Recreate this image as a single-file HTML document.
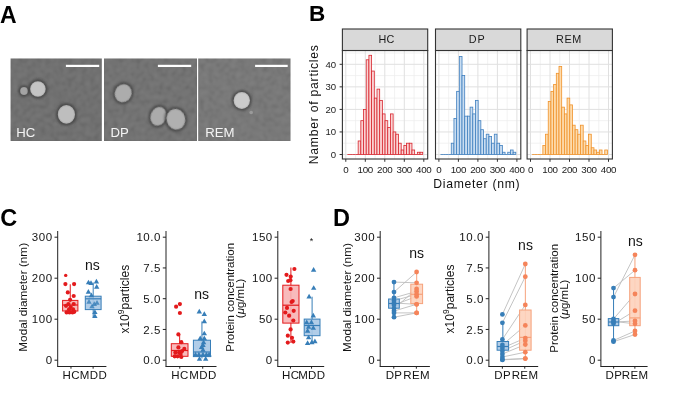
<!DOCTYPE html>
<html><head><meta charset="utf-8"><style>
html,body{margin:0;padding:0;background:#fff;}
svg{display:block;will-change:transform;filter:blur(0.35px);font-family:"Liberation Sans", sans-serif;}
</style></head><body>
<svg width="685" height="419" viewBox="0 0 685 419">
<defs>
<filter id="noise0" x="0" y="0" width="100%" height="100%"><feTurbulence type="fractalNoise" baseFrequency="0.22" numOctaves="3" seed="4"/><feColorMatrix type="matrix" values="1.6 0 0 0 -0.3  1.6 0 0 0 -0.3  1.6 0 0 0 -0.3  0 0 0 0 0.11"/><feGaussianBlur stdDeviation="0.8"/></filter>
<filter id="noise1" x="0" y="0" width="100%" height="100%"><feTurbulence type="fractalNoise" baseFrequency="0.22" numOctaves="3" seed="9"/><feColorMatrix type="matrix" values="1.6 0 0 0 -0.3  1.6 0 0 0 -0.3  1.6 0 0 0 -0.3  0 0 0 0 0.11"/><feGaussianBlur stdDeviation="0.8"/></filter>
<filter id="noise2" x="0" y="0" width="100%" height="100%"><feTurbulence type="fractalNoise" baseFrequency="0.22" numOctaves="3" seed="17"/><feColorMatrix type="matrix" values="1.6 0 0 0 -0.3  1.6 0 0 0 -0.3  1.6 0 0 0 -0.3  0 0 0 0 0.11"/><feGaussianBlur stdDeviation="0.8"/></filter>
<filter id="b05" x="-50%" y="-50%" width="200%" height="200%"><feGaussianBlur stdDeviation="0.6"/></filter>
<filter id="b1" x="-50%" y="-50%" width="200%" height="200%"><feGaussianBlur stdDeviation="1.2"/></filter>
</defs>
<rect width="685" height="419" fill="#fff"/>
<text x="0" y="23.3" font-family='"Liberation Sans", sans-serif' font-weight="bold" font-size="23" fill="#000">A</text>
<rect x="10.6" y="58.5" width="91.2" height="82.5" fill="#676767"/>
<rect x="10.6" y="58.5" width="91.2" height="82.5" filter="url(#noise0)"/>
<rect x="104.0" y="58.5" width="93.0" height="82.5" fill="#6a6a6a"/>
<rect x="104.0" y="58.5" width="93.0" height="82.5" filter="url(#noise1)"/>
<rect x="198.2" y="58.5" width="92.3" height="82.5" fill="#707070"/>
<rect x="198.2" y="58.5" width="92.3" height="82.5" filter="url(#noise2)"/>
<radialGradient id="vg0"><stop offset="0" stop-color="#a4a4a4"/><stop offset="0.8" stop-color="#a4a4a4"/><stop offset="1" stop-color="#959595"/></radialGradient>
<g transform="translate(24.0,91.0) rotate(0)"><ellipse rx="5.9" ry="5.9" fill="#3e3e3e" opacity="0.7" filter="url(#b1)"/><ellipse rx="3.9" ry="3.9" fill="url(#vg0)" filter="url(#b05)"/></g>
<radialGradient id="vg1"><stop offset="0" stop-color="#c4c4c4"/><stop offset="0.8" stop-color="#c4c4c4"/><stop offset="1" stop-color="#b0b0b0"/></radialGradient>
<g transform="translate(37.9,89.0) rotate(0)"><ellipse rx="9.8" ry="9.8" fill="#3e3e3e" opacity="0.7" filter="url(#b1)"/><ellipse rx="7.8" ry="7.8" fill="url(#vg1)" filter="url(#b05)"/></g>
<radialGradient id="vg2"><stop offset="0" stop-color="#bebebe"/><stop offset="0.8" stop-color="#bebebe"/><stop offset="1" stop-color="#aaaaaa"/></radialGradient>
<g transform="translate(66.4,114.4) rotate(0)"><ellipse rx="10.6" ry="11.3" fill="#3e3e3e" opacity="0.7" filter="url(#b1)"/><ellipse rx="8.6" ry="9.3" fill="url(#vg2)" filter="url(#b05)"/></g>
<radialGradient id="vg3"><stop offset="0" stop-color="#acacac"/><stop offset="0.8" stop-color="#acacac"/><stop offset="1" stop-color="#9c9c9c"/></radialGradient>
<g transform="translate(123.2,93.2) rotate(25)"><ellipse rx="10.4" ry="11.3" fill="#3e3e3e" opacity="0.7" filter="url(#b1)"/><ellipse rx="8.4" ry="9.3" fill="url(#vg3)" filter="url(#b05)"/></g>
<radialGradient id="vg4"><stop offset="0" stop-color="#ababab"/><stop offset="0.8" stop-color="#ababab"/><stop offset="1" stop-color="#9a9a9a"/></radialGradient>
<g transform="translate(158.4,116.3) rotate(20)"><ellipse rx="9.9" ry="11.7" fill="#3e3e3e" opacity="0.7" filter="url(#b1)"/><ellipse rx="7.9" ry="9.7" fill="url(#vg4)" filter="url(#b05)"/></g>
<radialGradient id="vg5"><stop offset="0" stop-color="#b0b0b0"/><stop offset="0.8" stop-color="#b0b0b0"/><stop offset="1" stop-color="#9e9e9e"/></radialGradient>
<g transform="translate(175.9,119.2) rotate(-15)"><ellipse rx="11.4" ry="12.6" fill="#3e3e3e" opacity="0.7" filter="url(#b1)"/><ellipse rx="9.4" ry="10.6" fill="url(#vg5)" filter="url(#b05)"/></g>
<radialGradient id="vg6"><stop offset="0" stop-color="#cbcbcb"/><stop offset="0.8" stop-color="#cbcbcb"/><stop offset="1" stop-color="#b4b4b4"/></radialGradient>
<g transform="translate(241.8,100.5) rotate(0)"><ellipse rx="10.2" ry="10.4" fill="#3e3e3e" opacity="0.7" filter="url(#b1)"/><ellipse rx="8.2" ry="8.4" fill="url(#vg6)" filter="url(#b05)"/></g>
<circle cx="251.2" cy="112.5" r="1.8" fill="#9a9a9a" filter="url(#b05)"/>
<rect x="65.9" y="64.8" width="33.3" height="2.2" fill="#fff"/>
<rect x="157.9" y="64.8" width="33.29999999999998" height="2.2" fill="#fff"/>
<rect x="255.1" y="64.8" width="32.599999999999994" height="2.2" fill="#fff"/>
<text x="16.2" y="136.6" font-family='"Liberation Sans", sans-serif' font-size="13.2" fill="#f4f4f4">HC</text>
<text x="110.4" y="136.6" font-family='"Liberation Sans", sans-serif' font-size="13.2" fill="#f4f4f4">DP</text>
<text x="205.2" y="136.6" font-family='"Liberation Sans", sans-serif' font-size="13.2" fill="#f4f4f4">REM</text>
<text x="309" y="21.2" font-family='"Liberation Sans", sans-serif' font-weight="bold" font-size="22.5" fill="#000">B</text>
<line x1="355.55" y1="50.5" x2="355.55" y2="159.0" stroke="#ededed" stroke-width="0.7"/>
<line x1="375.05" y1="50.5" x2="375.05" y2="159.0" stroke="#ededed" stroke-width="0.7"/>
<line x1="394.55" y1="50.5" x2="394.55" y2="159.0" stroke="#ededed" stroke-width="0.7"/>
<line x1="414.05" y1="50.5" x2="414.05" y2="159.0" stroke="#ededed" stroke-width="0.7"/>
<line x1="342.4" y1="143.22" x2="427.7" y2="143.22" stroke="#ededed" stroke-width="0.7"/>
<line x1="342.4" y1="120.68" x2="427.7" y2="120.68" stroke="#ededed" stroke-width="0.7"/>
<line x1="342.4" y1="98.12" x2="427.7" y2="98.12" stroke="#ededed" stroke-width="0.7"/>
<line x1="342.4" y1="75.58" x2="427.7" y2="75.58" stroke="#ededed" stroke-width="0.7"/>
<line x1="342.4" y1="53.03" x2="427.7" y2="53.03" stroke="#ededed" stroke-width="0.7"/>
<line x1="345.80" y1="50.5" x2="345.80" y2="159.0" stroke="#e0e0e0" stroke-width="1"/>
<line x1="365.30" y1="50.5" x2="365.30" y2="159.0" stroke="#e0e0e0" stroke-width="1"/>
<line x1="384.80" y1="50.5" x2="384.80" y2="159.0" stroke="#e0e0e0" stroke-width="1"/>
<line x1="404.30" y1="50.5" x2="404.30" y2="159.0" stroke="#e0e0e0" stroke-width="1"/>
<line x1="423.80" y1="50.5" x2="423.80" y2="159.0" stroke="#e0e0e0" stroke-width="1"/>
<line x1="342.4" y1="154.50" x2="427.7" y2="154.50" stroke="#e0e0e0" stroke-width="1"/>
<line x1="342.4" y1="131.95" x2="427.7" y2="131.95" stroke="#e0e0e0" stroke-width="1"/>
<line x1="342.4" y1="109.40" x2="427.7" y2="109.40" stroke="#e0e0e0" stroke-width="1"/>
<line x1="342.4" y1="86.85" x2="427.7" y2="86.85" stroke="#e0e0e0" stroke-width="1"/>
<line x1="342.4" y1="64.30" x2="427.7" y2="64.30" stroke="#e0e0e0" stroke-width="1"/>
<line x1="347.40" y1="154.5" x2="350.09" y2="154.5" stroke="#d7262e" stroke-width="0.8"/>
<line x1="350.09" y1="154.5" x2="352.78" y2="154.5" stroke="#d7262e" stroke-width="0.8"/>
<line x1="352.78" y1="154.5" x2="355.47" y2="154.5" stroke="#d7262e" stroke-width="0.8"/>
<line x1="355.47" y1="154.5" x2="358.16" y2="154.5" stroke="#d7262e" stroke-width="0.8"/>
<rect x="358.16" y="140.97" width="2.69" height="13.53" fill="#fbd3d4" stroke="#d7262e" stroke-width="0.8"/>
<rect x="360.85" y="120.68" width="2.69" height="33.82" fill="#fbd3d4" stroke="#d7262e" stroke-width="0.8"/>
<rect x="363.54" y="109.40" width="2.69" height="45.10" fill="#fbd3d4" stroke="#d7262e" stroke-width="0.8"/>
<rect x="366.23" y="59.79" width="2.69" height="94.71" fill="#fbd3d4" stroke="#d7262e" stroke-width="0.8"/>
<rect x="368.92" y="55.28" width="2.69" height="99.22" fill="#fbd3d4" stroke="#d7262e" stroke-width="0.8"/>
<rect x="371.61" y="71.06" width="2.69" height="83.44" fill="#fbd3d4" stroke="#d7262e" stroke-width="0.8"/>
<rect x="374.30" y="98.12" width="2.69" height="56.38" fill="#fbd3d4" stroke="#d7262e" stroke-width="0.8"/>
<rect x="376.99" y="89.11" width="2.69" height="65.39" fill="#fbd3d4" stroke="#d7262e" stroke-width="0.8"/>
<rect x="379.68" y="100.38" width="2.69" height="54.12" fill="#fbd3d4" stroke="#d7262e" stroke-width="0.8"/>
<rect x="382.37" y="113.91" width="2.69" height="40.59" fill="#fbd3d4" stroke="#d7262e" stroke-width="0.8"/>
<rect x="385.06" y="120.68" width="2.69" height="33.82" fill="#fbd3d4" stroke="#d7262e" stroke-width="0.8"/>
<rect x="387.75" y="127.44" width="2.69" height="27.06" fill="#fbd3d4" stroke="#d7262e" stroke-width="0.8"/>
<rect x="390.44" y="113.91" width="2.69" height="40.59" fill="#fbd3d4" stroke="#d7262e" stroke-width="0.8"/>
<rect x="393.13" y="131.95" width="2.69" height="22.55" fill="#fbd3d4" stroke="#d7262e" stroke-width="0.8"/>
<rect x="395.82" y="134.21" width="2.69" height="20.29" fill="#fbd3d4" stroke="#d7262e" stroke-width="0.8"/>
<rect x="398.51" y="143.22" width="2.69" height="11.27" fill="#fbd3d4" stroke="#d7262e" stroke-width="0.8"/>
<rect x="401.20" y="149.99" width="2.69" height="4.51" fill="#fbd3d4" stroke="#d7262e" stroke-width="0.8"/>
<rect x="403.89" y="145.48" width="2.69" height="9.02" fill="#fbd3d4" stroke="#d7262e" stroke-width="0.8"/>
<rect x="406.58" y="143.22" width="2.69" height="11.27" fill="#fbd3d4" stroke="#d7262e" stroke-width="0.8"/>
<rect x="409.27" y="143.22" width="2.69" height="11.27" fill="#fbd3d4" stroke="#d7262e" stroke-width="0.8"/>
<rect x="411.96" y="149.99" width="2.69" height="4.51" fill="#fbd3d4" stroke="#d7262e" stroke-width="0.8"/>
<line x1="414.65" y1="154.5" x2="417.34" y2="154.5" stroke="#d7262e" stroke-width="0.8"/>
<rect x="417.34" y="152.25" width="2.69" height="2.25" fill="#fbd3d4" stroke="#d7262e" stroke-width="0.8"/>
<rect x="420.03" y="152.25" width="2.69" height="2.25" fill="#fbd3d4" stroke="#d7262e" stroke-width="0.8"/>
<rect x="342.4" y="50.5" width="85.3" height="108.5" fill="none" stroke="#333" stroke-width="1.1"/>
<rect x="342.4" y="29.0" width="85.3" height="21.5" fill="#d9d9d9" stroke="#333" stroke-width="1.1"/>
<text x="386.54999999999995" y="42.5" text-anchor="middle" font-family='"Liberation Sans", sans-serif' font-size="10.8" letter-spacing="0.2" fill="#1a1a1a">HC</text>
<line x1="345.80" y1="159.0" x2="345.80" y2="161.8" stroke="#333" stroke-width="1"/>
<text x="345.80" y="172.8" text-anchor="middle" font-family='"Liberation Sans", sans-serif' font-size="9.8" letter-spacing="-0.3" fill="#222">0</text>
<line x1="365.30" y1="159.0" x2="365.30" y2="161.8" stroke="#333" stroke-width="1"/>
<text x="365.30" y="172.8" text-anchor="middle" font-family='"Liberation Sans", sans-serif' font-size="9.8" letter-spacing="-0.3" fill="#222">100</text>
<line x1="384.80" y1="159.0" x2="384.80" y2="161.8" stroke="#333" stroke-width="1"/>
<text x="384.80" y="172.8" text-anchor="middle" font-family='"Liberation Sans", sans-serif' font-size="9.8" letter-spacing="-0.3" fill="#222">200</text>
<line x1="404.30" y1="159.0" x2="404.30" y2="161.8" stroke="#333" stroke-width="1"/>
<text x="404.30" y="172.8" text-anchor="middle" font-family='"Liberation Sans", sans-serif' font-size="9.8" letter-spacing="-0.3" fill="#222">300</text>
<line x1="423.80" y1="159.0" x2="423.80" y2="161.8" stroke="#333" stroke-width="1"/>
<text x="423.80" y="172.8" text-anchor="middle" font-family='"Liberation Sans", sans-serif' font-size="9.8" letter-spacing="-0.3" fill="#222">400</text>
<line x1="448.65" y1="50.5" x2="448.65" y2="159.0" stroke="#ededed" stroke-width="0.7"/>
<line x1="468.15" y1="50.5" x2="468.15" y2="159.0" stroke="#ededed" stroke-width="0.7"/>
<line x1="487.65" y1="50.5" x2="487.65" y2="159.0" stroke="#ededed" stroke-width="0.7"/>
<line x1="507.15" y1="50.5" x2="507.15" y2="159.0" stroke="#ededed" stroke-width="0.7"/>
<line x1="435.5" y1="143.22" x2="520.8" y2="143.22" stroke="#ededed" stroke-width="0.7"/>
<line x1="435.5" y1="120.68" x2="520.8" y2="120.68" stroke="#ededed" stroke-width="0.7"/>
<line x1="435.5" y1="98.12" x2="520.8" y2="98.12" stroke="#ededed" stroke-width="0.7"/>
<line x1="435.5" y1="75.58" x2="520.8" y2="75.58" stroke="#ededed" stroke-width="0.7"/>
<line x1="435.5" y1="53.03" x2="520.8" y2="53.03" stroke="#ededed" stroke-width="0.7"/>
<line x1="438.90" y1="50.5" x2="438.90" y2="159.0" stroke="#e0e0e0" stroke-width="1"/>
<line x1="458.40" y1="50.5" x2="458.40" y2="159.0" stroke="#e0e0e0" stroke-width="1"/>
<line x1="477.90" y1="50.5" x2="477.90" y2="159.0" stroke="#e0e0e0" stroke-width="1"/>
<line x1="497.40" y1="50.5" x2="497.40" y2="159.0" stroke="#e0e0e0" stroke-width="1"/>
<line x1="516.90" y1="50.5" x2="516.90" y2="159.0" stroke="#e0e0e0" stroke-width="1"/>
<line x1="435.5" y1="154.50" x2="520.8" y2="154.50" stroke="#e0e0e0" stroke-width="1"/>
<line x1="435.5" y1="131.95" x2="520.8" y2="131.95" stroke="#e0e0e0" stroke-width="1"/>
<line x1="435.5" y1="109.40" x2="520.8" y2="109.40" stroke="#e0e0e0" stroke-width="1"/>
<line x1="435.5" y1="86.85" x2="520.8" y2="86.85" stroke="#e0e0e0" stroke-width="1"/>
<line x1="435.5" y1="64.30" x2="520.8" y2="64.30" stroke="#e0e0e0" stroke-width="1"/>
<line x1="440.50" y1="154.5" x2="443.19" y2="154.5" stroke="#3f7fbf" stroke-width="0.8"/>
<line x1="443.19" y1="154.5" x2="445.88" y2="154.5" stroke="#3f7fbf" stroke-width="0.8"/>
<line x1="445.88" y1="154.5" x2="448.57" y2="154.5" stroke="#3f7fbf" stroke-width="0.8"/>
<line x1="448.57" y1="154.5" x2="451.26" y2="154.5" stroke="#3f7fbf" stroke-width="0.8"/>
<rect x="451.26" y="143.22" width="2.69" height="11.27" fill="#c9ddf1" stroke="#3f7fbf" stroke-width="0.8"/>
<rect x="453.95" y="118.42" width="2.69" height="36.08" fill="#c9ddf1" stroke="#3f7fbf" stroke-width="0.8"/>
<rect x="456.64" y="91.36" width="2.69" height="63.14" fill="#c9ddf1" stroke="#3f7fbf" stroke-width="0.8"/>
<rect x="459.33" y="56.41" width="2.69" height="98.09" fill="#c9ddf1" stroke="#3f7fbf" stroke-width="0.8"/>
<rect x="462.02" y="75.58" width="2.69" height="78.92" fill="#c9ddf1" stroke="#3f7fbf" stroke-width="0.8"/>
<rect x="464.71" y="116.16" width="2.69" height="38.34" fill="#c9ddf1" stroke="#3f7fbf" stroke-width="0.8"/>
<rect x="467.40" y="116.16" width="2.69" height="38.34" fill="#c9ddf1" stroke="#3f7fbf" stroke-width="0.8"/>
<rect x="470.09" y="107.15" width="2.69" height="47.35" fill="#c9ddf1" stroke="#3f7fbf" stroke-width="0.8"/>
<rect x="472.78" y="113.91" width="2.69" height="40.59" fill="#c9ddf1" stroke="#3f7fbf" stroke-width="0.8"/>
<rect x="475.47" y="100.38" width="2.69" height="54.12" fill="#c9ddf1" stroke="#3f7fbf" stroke-width="0.8"/>
<rect x="478.16" y="120.68" width="2.69" height="33.82" fill="#c9ddf1" stroke="#3f7fbf" stroke-width="0.8"/>
<rect x="480.85" y="129.69" width="2.69" height="24.80" fill="#c9ddf1" stroke="#3f7fbf" stroke-width="0.8"/>
<rect x="483.54" y="138.72" width="2.69" height="15.79" fill="#c9ddf1" stroke="#3f7fbf" stroke-width="0.8"/>
<rect x="486.23" y="134.21" width="2.69" height="20.29" fill="#c9ddf1" stroke="#3f7fbf" stroke-width="0.8"/>
<rect x="488.92" y="136.46" width="2.69" height="18.04" fill="#c9ddf1" stroke="#3f7fbf" stroke-width="0.8"/>
<rect x="491.61" y="143.22" width="2.69" height="11.27" fill="#c9ddf1" stroke="#3f7fbf" stroke-width="0.8"/>
<rect x="494.30" y="134.21" width="2.69" height="20.29" fill="#c9ddf1" stroke="#3f7fbf" stroke-width="0.8"/>
<rect x="496.99" y="143.22" width="2.69" height="11.27" fill="#c9ddf1" stroke="#3f7fbf" stroke-width="0.8"/>
<rect x="499.68" y="145.48" width="2.69" height="9.02" fill="#c9ddf1" stroke="#3f7fbf" stroke-width="0.8"/>
<rect x="502.37" y="152.25" width="2.69" height="2.25" fill="#c9ddf1" stroke="#3f7fbf" stroke-width="0.8"/>
<line x1="505.06" y1="154.5" x2="507.75" y2="154.5" stroke="#3f7fbf" stroke-width="0.8"/>
<rect x="507.75" y="152.25" width="2.69" height="2.25" fill="#c9ddf1" stroke="#3f7fbf" stroke-width="0.8"/>
<rect x="510.44" y="149.99" width="2.69" height="4.51" fill="#c9ddf1" stroke="#3f7fbf" stroke-width="0.8"/>
<rect x="513.13" y="152.25" width="2.69" height="2.25" fill="#c9ddf1" stroke="#3f7fbf" stroke-width="0.8"/>
<rect x="435.5" y="50.5" width="85.3" height="108.5" fill="none" stroke="#333" stroke-width="1.1"/>
<rect x="435.5" y="29.0" width="85.3" height="21.5" fill="#d9d9d9" stroke="#333" stroke-width="1.1"/>
<text x="477.15" y="42.5" text-anchor="middle" font-family='"Liberation Sans", sans-serif' font-size="10.8" letter-spacing="1.0" fill="#1a1a1a">DP</text>
<line x1="438.90" y1="159.0" x2="438.90" y2="161.8" stroke="#333" stroke-width="1"/>
<text x="438.90" y="172.8" text-anchor="middle" font-family='"Liberation Sans", sans-serif' font-size="9.8" letter-spacing="-0.3" fill="#222">0</text>
<line x1="458.40" y1="159.0" x2="458.40" y2="161.8" stroke="#333" stroke-width="1"/>
<text x="458.40" y="172.8" text-anchor="middle" font-family='"Liberation Sans", sans-serif' font-size="9.8" letter-spacing="-0.3" fill="#222">100</text>
<line x1="477.90" y1="159.0" x2="477.90" y2="161.8" stroke="#333" stroke-width="1"/>
<text x="477.90" y="172.8" text-anchor="middle" font-family='"Liberation Sans", sans-serif' font-size="9.8" letter-spacing="-0.3" fill="#222">200</text>
<line x1="497.40" y1="159.0" x2="497.40" y2="161.8" stroke="#333" stroke-width="1"/>
<text x="497.40" y="172.8" text-anchor="middle" font-family='"Liberation Sans", sans-serif' font-size="9.8" letter-spacing="-0.3" fill="#222">300</text>
<line x1="516.90" y1="159.0" x2="516.90" y2="161.8" stroke="#333" stroke-width="1"/>
<text x="516.90" y="172.8" text-anchor="middle" font-family='"Liberation Sans", sans-serif' font-size="9.8" letter-spacing="-0.3" fill="#222">400</text>
<line x1="540.25" y1="50.5" x2="540.25" y2="159.0" stroke="#ededed" stroke-width="0.7"/>
<line x1="559.75" y1="50.5" x2="559.75" y2="159.0" stroke="#ededed" stroke-width="0.7"/>
<line x1="579.25" y1="50.5" x2="579.25" y2="159.0" stroke="#ededed" stroke-width="0.7"/>
<line x1="598.75" y1="50.5" x2="598.75" y2="159.0" stroke="#ededed" stroke-width="0.7"/>
<line x1="527.1" y1="143.22" x2="612.4" y2="143.22" stroke="#ededed" stroke-width="0.7"/>
<line x1="527.1" y1="120.68" x2="612.4" y2="120.68" stroke="#ededed" stroke-width="0.7"/>
<line x1="527.1" y1="98.12" x2="612.4" y2="98.12" stroke="#ededed" stroke-width="0.7"/>
<line x1="527.1" y1="75.58" x2="612.4" y2="75.58" stroke="#ededed" stroke-width="0.7"/>
<line x1="527.1" y1="53.03" x2="612.4" y2="53.03" stroke="#ededed" stroke-width="0.7"/>
<line x1="530.50" y1="50.5" x2="530.50" y2="159.0" stroke="#e0e0e0" stroke-width="1"/>
<line x1="550.00" y1="50.5" x2="550.00" y2="159.0" stroke="#e0e0e0" stroke-width="1"/>
<line x1="569.50" y1="50.5" x2="569.50" y2="159.0" stroke="#e0e0e0" stroke-width="1"/>
<line x1="589.00" y1="50.5" x2="589.00" y2="159.0" stroke="#e0e0e0" stroke-width="1"/>
<line x1="608.50" y1="50.5" x2="608.50" y2="159.0" stroke="#e0e0e0" stroke-width="1"/>
<line x1="527.1" y1="154.50" x2="612.4" y2="154.50" stroke="#e0e0e0" stroke-width="1"/>
<line x1="527.1" y1="131.95" x2="612.4" y2="131.95" stroke="#e0e0e0" stroke-width="1"/>
<line x1="527.1" y1="109.40" x2="612.4" y2="109.40" stroke="#e0e0e0" stroke-width="1"/>
<line x1="527.1" y1="86.85" x2="612.4" y2="86.85" stroke="#e0e0e0" stroke-width="1"/>
<line x1="527.1" y1="64.30" x2="612.4" y2="64.30" stroke="#e0e0e0" stroke-width="1"/>
<line x1="532.10" y1="154.5" x2="534.79" y2="154.5" stroke="#f0922a" stroke-width="0.8"/>
<line x1="534.79" y1="154.5" x2="537.48" y2="154.5" stroke="#f0922a" stroke-width="0.8"/>
<line x1="537.48" y1="154.5" x2="540.17" y2="154.5" stroke="#f0922a" stroke-width="0.8"/>
<line x1="540.17" y1="154.5" x2="542.86" y2="154.5" stroke="#f0922a" stroke-width="0.8"/>
<rect x="542.86" y="145.48" width="2.69" height="9.02" fill="#fddbac" stroke="#f0922a" stroke-width="0.8"/>
<rect x="545.55" y="134.21" width="2.69" height="20.29" fill="#fddbac" stroke="#f0922a" stroke-width="0.8"/>
<rect x="548.24" y="101.51" width="2.69" height="52.99" fill="#fddbac" stroke="#f0922a" stroke-width="0.8"/>
<rect x="550.93" y="91.36" width="2.69" height="63.14" fill="#fddbac" stroke="#f0922a" stroke-width="0.8"/>
<rect x="553.62" y="84.59" width="2.69" height="69.91" fill="#fddbac" stroke="#f0922a" stroke-width="0.8"/>
<rect x="556.31" y="73.32" width="2.69" height="81.18" fill="#fddbac" stroke="#f0922a" stroke-width="0.8"/>
<rect x="559.00" y="66.56" width="2.69" height="87.94" fill="#fddbac" stroke="#f0922a" stroke-width="0.8"/>
<rect x="561.69" y="107.15" width="2.69" height="47.35" fill="#fddbac" stroke="#f0922a" stroke-width="0.8"/>
<rect x="564.38" y="113.91" width="2.69" height="40.59" fill="#fddbac" stroke="#f0922a" stroke-width="0.8"/>
<rect x="567.07" y="98.12" width="2.69" height="56.38" fill="#fddbac" stroke="#f0922a" stroke-width="0.8"/>
<rect x="569.76" y="104.89" width="2.69" height="49.61" fill="#fddbac" stroke="#f0922a" stroke-width="0.8"/>
<rect x="572.45" y="125.19" width="2.69" height="29.31" fill="#fddbac" stroke="#f0922a" stroke-width="0.8"/>
<rect x="575.14" y="129.69" width="2.69" height="24.80" fill="#fddbac" stroke="#f0922a" stroke-width="0.8"/>
<rect x="577.83" y="134.21" width="2.69" height="20.29" fill="#fddbac" stroke="#f0922a" stroke-width="0.8"/>
<rect x="580.52" y="125.19" width="2.69" height="29.31" fill="#fddbac" stroke="#f0922a" stroke-width="0.8"/>
<rect x="583.21" y="140.97" width="2.69" height="13.53" fill="#fddbac" stroke="#f0922a" stroke-width="0.8"/>
<rect x="585.90" y="145.48" width="2.69" height="9.02" fill="#fddbac" stroke="#f0922a" stroke-width="0.8"/>
<rect x="588.59" y="134.21" width="2.69" height="20.29" fill="#fddbac" stroke="#f0922a" stroke-width="0.8"/>
<rect x="591.28" y="147.74" width="2.69" height="6.76" fill="#fddbac" stroke="#f0922a" stroke-width="0.8"/>
<rect x="593.97" y="149.99" width="2.69" height="4.51" fill="#fddbac" stroke="#f0922a" stroke-width="0.8"/>
<rect x="596.66" y="152.25" width="2.69" height="2.25" fill="#fddbac" stroke="#f0922a" stroke-width="0.8"/>
<rect x="599.35" y="149.99" width="2.69" height="4.51" fill="#fddbac" stroke="#f0922a" stroke-width="0.8"/>
<line x1="602.04" y1="154.5" x2="604.73" y2="154.5" stroke="#f0922a" stroke-width="0.8"/>
<rect x="604.73" y="149.99" width="2.69" height="4.51" fill="#fddbac" stroke="#f0922a" stroke-width="0.8"/>
<rect x="527.1" y="50.5" width="85.3" height="108.5" fill="none" stroke="#333" stroke-width="1.1"/>
<rect x="527.1" y="29.0" width="85.3" height="21.5" fill="#d9d9d9" stroke="#333" stroke-width="1.1"/>
<text x="568.95" y="42.5" text-anchor="middle" font-family='"Liberation Sans", sans-serif' font-size="10.8" letter-spacing="0.6" fill="#1a1a1a">REM</text>
<line x1="530.50" y1="159.0" x2="530.50" y2="161.8" stroke="#333" stroke-width="1"/>
<text x="530.50" y="172.8" text-anchor="middle" font-family='"Liberation Sans", sans-serif' font-size="9.8" letter-spacing="-0.3" fill="#222">0</text>
<line x1="550.00" y1="159.0" x2="550.00" y2="161.8" stroke="#333" stroke-width="1"/>
<text x="550.00" y="172.8" text-anchor="middle" font-family='"Liberation Sans", sans-serif' font-size="9.8" letter-spacing="-0.3" fill="#222">100</text>
<line x1="569.50" y1="159.0" x2="569.50" y2="161.8" stroke="#333" stroke-width="1"/>
<text x="569.50" y="172.8" text-anchor="middle" font-family='"Liberation Sans", sans-serif' font-size="9.8" letter-spacing="-0.3" fill="#222">200</text>
<line x1="589.00" y1="159.0" x2="589.00" y2="161.8" stroke="#333" stroke-width="1"/>
<text x="589.00" y="172.8" text-anchor="middle" font-family='"Liberation Sans", sans-serif' font-size="9.8" letter-spacing="-0.3" fill="#222">300</text>
<line x1="608.50" y1="159.0" x2="608.50" y2="161.8" stroke="#333" stroke-width="1"/>
<text x="608.50" y="172.8" text-anchor="middle" font-family='"Liberation Sans", sans-serif' font-size="9.8" letter-spacing="-0.3" fill="#222">400</text>
<line x1="339.59999999999997" y1="154.50" x2="342.4" y2="154.50" stroke="#333" stroke-width="1"/>
<text x="336.09999999999997" y="157.90" text-anchor="end" font-family='"Liberation Sans", sans-serif' font-size="9.6" fill="#222">0</text>
<line x1="339.59999999999997" y1="131.95" x2="342.4" y2="131.95" stroke="#333" stroke-width="1"/>
<text x="336.09999999999997" y="135.35" text-anchor="end" font-family='"Liberation Sans", sans-serif' font-size="9.6" fill="#222">10</text>
<line x1="339.59999999999997" y1="109.40" x2="342.4" y2="109.40" stroke="#333" stroke-width="1"/>
<text x="336.09999999999997" y="112.80" text-anchor="end" font-family='"Liberation Sans", sans-serif' font-size="9.6" fill="#222">20</text>
<line x1="339.59999999999997" y1="86.85" x2="342.4" y2="86.85" stroke="#333" stroke-width="1"/>
<text x="336.09999999999997" y="90.25" text-anchor="end" font-family='"Liberation Sans", sans-serif' font-size="9.6" fill="#222">30</text>
<line x1="339.59999999999997" y1="64.30" x2="342.4" y2="64.30" stroke="#333" stroke-width="1"/>
<text x="336.09999999999997" y="67.70" text-anchor="end" font-family='"Liberation Sans", sans-serif' font-size="9.6" fill="#222">40</text>
<text x="476.8" y="187.6" text-anchor="middle" font-family='"Liberation Sans", sans-serif' font-size="12.2" letter-spacing="0.7" fill="#111">Diameter (nm)</text>
<text transform="translate(318.2,104.3) rotate(-90)" x="0" y="0" text-anchor="middle" font-family='"Liberation Sans", sans-serif' font-size="12.2" letter-spacing="0.75" fill="#111">Namber of particles</text>
<text x="0.3" y="225.6" font-family='"Liberation Sans", sans-serif' font-weight="bold" font-size="23.5" fill="#000">C</text>
<text x="333" y="226.3" font-family='"Liberation Sans", sans-serif' font-weight="bold" font-size="23.5" fill="#000">D</text>
<line x1="57.7" y1="231.0" x2="57.7" y2="366.5" stroke="#222" stroke-width="1"/>
<line x1="57.2" y1="366.5" x2="106.4" y2="366.5" stroke="#222" stroke-width="1"/>
<line x1="54.5" y1="360.20" x2="57.7" y2="360.20" stroke="#222" stroke-width="1"/>
<text x="52.70" y="364.30" text-anchor="end" font-family='"Liberation Sans", sans-serif' font-size="11.5" letter-spacing="0.55" fill="#141414">0</text>
<line x1="54.5" y1="319.20" x2="57.7" y2="319.20" stroke="#222" stroke-width="1"/>
<text x="52.70" y="323.30" text-anchor="end" font-family='"Liberation Sans", sans-serif' font-size="11.5" letter-spacing="0.55" fill="#141414">100</text>
<line x1="54.5" y1="278.20" x2="57.7" y2="278.20" stroke="#222" stroke-width="1"/>
<text x="52.70" y="282.30" text-anchor="end" font-family='"Liberation Sans", sans-serif' font-size="11.5" letter-spacing="0.55" fill="#141414">200</text>
<line x1="54.5" y1="237.20" x2="57.7" y2="237.20" stroke="#222" stroke-width="1"/>
<text x="52.70" y="241.30" text-anchor="end" font-family='"Liberation Sans", sans-serif' font-size="11.5" letter-spacing="0.55" fill="#141414">300</text>
<line x1="70.98" y1="366.5" x2="70.98" y2="368.7" stroke="#222" stroke-width="1"/>
<text x="71.28" y="378.90" text-anchor="middle" font-family='"Liberation Sans", sans-serif' font-size="11.5" letter-spacing="0.4" fill="#141414">HC</text>
<line x1="93.12" y1="366.5" x2="93.12" y2="368.7" stroke="#222" stroke-width="1"/>
<text x="93.42" y="378.90" text-anchor="middle" font-family='"Liberation Sans", sans-serif' font-size="11.5" letter-spacing="0.4" fill="#141414">MDD</text>
<line x1="70.25" y1="284.30" x2="70.25" y2="313.00" stroke="#e31a1c" stroke-width="1"/>
<rect x="62.60" y="300.40" width="15.30" height="10.60" fill="#f7b3b4" fill-opacity="0.9" stroke="#e31a1c" stroke-width="1"/>
<line x1="62.60" y1="305.00" x2="77.90" y2="305.00" stroke="#e31a1c" stroke-width="1.2"/>
<circle cx="65.70" cy="275.40" r="1.7" fill="#e31a1c" fill-opacity="1"/>
<circle cx="65.40" cy="284.10" r="2.1" fill="#e31a1c" fill-opacity="1"/>
<circle cx="74.10" cy="284.10" r="2.1" fill="#e31a1c" fill-opacity="1"/>
<circle cx="67.80" cy="292.40" r="2.1" fill="#e31a1c" fill-opacity="1"/>
<circle cx="73.70" cy="296.00" r="2.1" fill="#e31a1c" fill-opacity="1"/>
<circle cx="70.10" cy="299.80" r="2.1" fill="#e31a1c" fill-opacity="1"/>
<circle cx="68.40" cy="304.00" r="2.1" fill="#e31a1c" fill-opacity="1"/>
<circle cx="73.70" cy="304.00" r="2.1" fill="#e31a1c" fill-opacity="1"/>
<circle cx="66.00" cy="305.80" r="2.1" fill="#e31a1c" fill-opacity="1"/>
<circle cx="70.70" cy="307.00" r="2.1" fill="#e31a1c" fill-opacity="1"/>
<circle cx="69.00" cy="309.40" r="2.1" fill="#e31a1c" fill-opacity="1"/>
<circle cx="73.10" cy="309.40" r="2.1" fill="#e31a1c" fill-opacity="1"/>
<circle cx="66.60" cy="312.40" r="2.1" fill="#e31a1c" fill-opacity="1"/>
<circle cx="69.50" cy="312.40" r="2.1" fill="#e31a1c" fill-opacity="1"/>
<circle cx="72.50" cy="312.40" r="2.1" fill="#e31a1c" fill-opacity="1"/>
<circle cx="74.30" cy="311.80" r="2.1" fill="#e31a1c" fill-opacity="1"/>
<line x1="93.20" y1="282.50" x2="93.20" y2="317.40" stroke="#377eb8" stroke-width="1"/>
<rect x="85.30" y="296.20" width="15.80" height="13.40" fill="#a9c8e6" fill-opacity="0.9" stroke="#377eb8" stroke-width="1"/>
<line x1="85.30" y1="298.80" x2="101.10" y2="298.80" stroke="#377eb8" stroke-width="1.2"/>
<path d="M88.50,279.63 L91.20,284.36 L85.80,284.36 Z" fill="#377eb8" fill-opacity="1"/>
<path d="M91.00,280.23 L93.70,284.95 L88.30,284.95 Z" fill="#377eb8" fill-opacity="1"/>
<path d="M96.40,278.83 L99.10,283.56 L93.70,283.56 Z" fill="#377eb8" fill-opacity="1"/>
<path d="M96.70,284.03 L99.40,288.75 L94.00,288.75 Z" fill="#377eb8" fill-opacity="1"/>
<path d="M88.40,288.93 L91.10,293.65 L85.70,293.65 Z" fill="#377eb8" fill-opacity="1"/>
<path d="M91.40,292.53 L94.10,297.25 L88.70,297.25 Z" fill="#377eb8" fill-opacity="1"/>
<path d="M94.90,313.23 L97.60,317.95 L92.20,317.95 Z" fill="#377eb8" fill-opacity="1"/>
<path d="M94.90,309.33 L97.60,314.06 L92.20,314.06 Z" fill="#377eb8" fill-opacity="1"/>
<path d="M94.30,301.23 L97.00,305.95 L91.60,305.95 Z" fill="#377eb8" fill-opacity="0.8"/>
<path d="M92.00,303.63 L94.70,308.36 L89.30,308.36 Z" fill="#377eb8" fill-opacity="0.8"/>
<path d="M97.00,300.03 L99.70,304.75 L94.30,304.75 Z" fill="#377eb8" fill-opacity="0.8"/>
<path d="M89.00,299.03 L91.70,303.75 L86.30,303.75 Z" fill="#377eb8" fill-opacity="0.8"/>
<text x="92.40" y="269.60" text-anchor="middle" font-family='"Liberation Sans", sans-serif' font-size="14" letter-spacing="0" fill="#141414">ns</text>
<text transform="translate(27.30,297.30) rotate(-90)" text-anchor="middle" font-family='"Liberation Sans", sans-serif' font-size="11.8" fill="#141414">Modal diameter (nm)</text>
<line x1="166.0" y1="231.0" x2="166.0" y2="366.5" stroke="#222" stroke-width="1"/>
<line x1="165.5" y1="366.5" x2="216.5" y2="366.5" stroke="#222" stroke-width="1"/>
<line x1="162.8" y1="360.20" x2="166.0" y2="360.20" stroke="#222" stroke-width="1"/>
<text x="161.00" y="364.30" text-anchor="end" font-family='"Liberation Sans", sans-serif' font-size="11.5" letter-spacing="0.55" fill="#141414">0.0</text>
<line x1="162.8" y1="329.45" x2="166.0" y2="329.45" stroke="#222" stroke-width="1"/>
<text x="161.00" y="333.55" text-anchor="end" font-family='"Liberation Sans", sans-serif' font-size="11.5" letter-spacing="0.55" fill="#141414">2.5</text>
<line x1="162.8" y1="298.70" x2="166.0" y2="298.70" stroke="#222" stroke-width="1"/>
<text x="161.00" y="302.80" text-anchor="end" font-family='"Liberation Sans", sans-serif' font-size="11.5" letter-spacing="0.55" fill="#141414">5.0</text>
<line x1="162.8" y1="267.95" x2="166.0" y2="267.95" stroke="#222" stroke-width="1"/>
<text x="161.00" y="272.05" text-anchor="end" font-family='"Liberation Sans", sans-serif' font-size="11.5" letter-spacing="0.55" fill="#141414">7.5</text>
<line x1="162.8" y1="237.20" x2="166.0" y2="237.20" stroke="#222" stroke-width="1"/>
<text x="161.00" y="241.30" text-anchor="end" font-family='"Liberation Sans", sans-serif' font-size="11.5" letter-spacing="0.55" fill="#141414">10.0</text>
<line x1="179.77" y1="366.5" x2="179.77" y2="368.7" stroke="#222" stroke-width="1"/>
<text x="180.07" y="378.90" text-anchor="middle" font-family='"Liberation Sans", sans-serif' font-size="11.5" letter-spacing="0.4" fill="#141414">HC</text>
<line x1="202.73" y1="366.5" x2="202.73" y2="368.7" stroke="#222" stroke-width="1"/>
<text x="203.03" y="378.90" text-anchor="middle" font-family='"Liberation Sans", sans-serif' font-size="11.5" letter-spacing="0.4" fill="#141414">MDD</text>
<line x1="179.65" y1="334.40" x2="179.65" y2="357.50" stroke="#e31a1c" stroke-width="1"/>
<rect x="171.30" y="343.70" width="16.70" height="12.60" fill="#f7b3b4" fill-opacity="0.9" stroke="#e31a1c" stroke-width="1"/>
<line x1="171.30" y1="350.50" x2="188.00" y2="350.50" stroke="#e31a1c" stroke-width="1.2"/>
<circle cx="176.10" cy="306.70" r="2.1" fill="#e31a1c" fill-opacity="1"/>
<circle cx="179.90" cy="304.10" r="2.1" fill="#e31a1c" fill-opacity="1"/>
<circle cx="179.90" cy="313.00" r="2.1" fill="#e31a1c" fill-opacity="1"/>
<circle cx="178.40" cy="334.40" r="2.1" fill="#e31a1c" fill-opacity="1"/>
<circle cx="181.30" cy="342.20" r="2.1" fill="#e31a1c" fill-opacity="1"/>
<circle cx="178.40" cy="347.40" r="2.1" fill="#e31a1c" fill-opacity="1"/>
<circle cx="175.40" cy="352.60" r="2.1" fill="#e31a1c" fill-opacity="1"/>
<circle cx="179.10" cy="352.60" r="2.1" fill="#e31a1c" fill-opacity="1"/>
<circle cx="182.10" cy="351.10" r="2.1" fill="#e31a1c" fill-opacity="1"/>
<circle cx="174.70" cy="356.30" r="2.1" fill="#e31a1c" fill-opacity="1"/>
<circle cx="177.60" cy="356.30" r="2.1" fill="#e31a1c" fill-opacity="1"/>
<circle cx="181.30" cy="357.00" r="2.1" fill="#e31a1c" fill-opacity="1"/>
<circle cx="184.30" cy="348.90" r="2.1" fill="#e31a1c" fill-opacity="1"/>
<circle cx="180.60" cy="354.10" r="2.1" fill="#e31a1c" fill-opacity="1"/>
<line x1="201.95" y1="321.40" x2="201.95" y2="358.50" stroke="#377eb8" stroke-width="1"/>
<rect x="193.40" y="340.20" width="17.10" height="16.40" fill="#a9c8e6" fill-opacity="0.9" stroke="#377eb8" stroke-width="1"/>
<line x1="193.40" y1="352.00" x2="210.50" y2="352.00" stroke="#377eb8" stroke-width="1.2"/>
<path d="M199.30,308.83 L202.00,313.56 L196.60,313.56 Z" fill="#377eb8" fill-opacity="1"/>
<path d="M204.30,311.33 L207.00,316.06 L201.60,316.06 Z" fill="#377eb8" fill-opacity="1"/>
<path d="M204.30,318.43 L207.00,323.15 L201.60,323.15 Z" fill="#377eb8" fill-opacity="1"/>
<path d="M204.30,330.63 L207.00,335.36 L201.60,335.36 Z" fill="#377eb8" fill-opacity="1"/>
<path d="M200.20,335.43 L202.90,340.15 L197.50,340.15 Z" fill="#377eb8" fill-opacity="1"/>
<path d="M204.30,335.43 L207.00,340.15 L201.60,340.15 Z" fill="#377eb8" fill-opacity="1"/>
<path d="M203.60,339.53 L206.30,344.25 L200.90,344.25 Z" fill="#377eb8" fill-opacity="1"/>
<path d="M203.00,342.23 L205.70,346.95 L200.30,346.95 Z" fill="#377eb8" fill-opacity="1"/>
<path d="M201.60,344.33 L204.30,349.06 L198.90,349.06 Z" fill="#377eb8" fill-opacity="1"/>
<path d="M203.00,347.03 L205.70,351.75 L200.30,351.75 Z" fill="#377eb8" fill-opacity="1"/>
<path d="M195.50,351.83 L198.20,356.56 L192.80,356.56 Z" fill="#377eb8" fill-opacity="1"/>
<path d="M198.90,351.83 L201.60,356.56 L196.20,356.56 Z" fill="#377eb8" fill-opacity="1"/>
<path d="M203.00,351.83 L205.70,356.56 L200.30,356.56 Z" fill="#377eb8" fill-opacity="1"/>
<path d="M206.40,351.83 L209.10,356.56 L203.70,356.56 Z" fill="#377eb8" fill-opacity="1"/>
<path d="M209.10,351.83 L211.80,356.56 L206.40,356.56 Z" fill="#377eb8" fill-opacity="1"/>
<path d="M199.50,355.93 L202.20,360.65 L196.80,360.65 Z" fill="#377eb8" fill-opacity="1"/>
<path d="M205.70,355.93 L208.40,360.65 L203.00,360.65 Z" fill="#377eb8" fill-opacity="1"/>
<text x="201.70" y="298.60" text-anchor="middle" font-family='"Liberation Sans", sans-serif' font-size="14" letter-spacing="0" fill="#141414">ns</text>
<text transform="translate(129.10,299.20) rotate(-90)" text-anchor="middle" font-family='"Liberation Sans", sans-serif' font-size="12" fill="#141414">x10<tspan dy="-5" font-size="8.5">9</tspan><tspan dy="5">particles</tspan></text>
<line x1="277.8" y1="231.0" x2="277.8" y2="366.5" stroke="#222" stroke-width="1"/>
<line x1="277.3" y1="366.5" x2="324.2" y2="366.5" stroke="#222" stroke-width="1"/>
<line x1="274.6" y1="360.20" x2="277.8" y2="360.20" stroke="#222" stroke-width="1"/>
<text x="272.80" y="364.30" text-anchor="end" font-family='"Liberation Sans", sans-serif' font-size="11.5" letter-spacing="0.55" fill="#141414">0</text>
<line x1="274.6" y1="319.20" x2="277.8" y2="319.20" stroke="#222" stroke-width="1"/>
<text x="272.80" y="323.30" text-anchor="end" font-family='"Liberation Sans", sans-serif' font-size="11.5" letter-spacing="0.55" fill="#141414">50</text>
<line x1="274.6" y1="278.20" x2="277.8" y2="278.20" stroke="#222" stroke-width="1"/>
<text x="272.80" y="282.30" text-anchor="end" font-family='"Liberation Sans", sans-serif' font-size="11.5" letter-spacing="0.55" fill="#141414">100</text>
<line x1="274.6" y1="237.20" x2="277.8" y2="237.20" stroke="#222" stroke-width="1"/>
<text x="272.80" y="241.30" text-anchor="end" font-family='"Liberation Sans", sans-serif' font-size="11.5" letter-spacing="0.55" fill="#141414">150</text>
<line x1="290.45" y1="366.5" x2="290.45" y2="368.7" stroke="#222" stroke-width="1"/>
<text x="290.75" y="378.90" text-anchor="middle" font-family='"Liberation Sans", sans-serif' font-size="11.5" letter-spacing="0.4" fill="#141414">HC</text>
<line x1="311.55" y1="366.5" x2="311.55" y2="368.7" stroke="#222" stroke-width="1"/>
<text x="311.85" y="378.90" text-anchor="middle" font-family='"Liberation Sans", sans-serif' font-size="11.5" letter-spacing="0.4" fill="#141414">MDD</text>
<line x1="290.90" y1="267.50" x2="290.90" y2="343.00" stroke="#e31a1c" stroke-width="1"/>
<rect x="282.80" y="285.20" width="16.20" height="37.90" fill="#f7b3b4" fill-opacity="0.9" stroke="#e31a1c" stroke-width="1"/>
<line x1="282.80" y1="305.20" x2="299.00" y2="305.20" stroke="#e31a1c" stroke-width="1.2"/>
<circle cx="294.40" cy="269.00" r="2.1" fill="#e31a1c" fill-opacity="1"/>
<circle cx="286.50" cy="274.80" r="2.1" fill="#e31a1c" fill-opacity="1"/>
<circle cx="290.70" cy="276.50" r="2.1" fill="#e31a1c" fill-opacity="1"/>
<circle cx="288.20" cy="281.00" r="2.1" fill="#e31a1c" fill-opacity="1"/>
<circle cx="290.40" cy="280.20" r="2.1" fill="#e31a1c" fill-opacity="1"/>
<circle cx="290.60" cy="289.00" r="2.1" fill="#e31a1c" fill-opacity="1"/>
<circle cx="292.70" cy="301.00" r="2.1" fill="#e31a1c" fill-opacity="1"/>
<circle cx="291.60" cy="302.00" r="2.1" fill="#e31a1c" fill-opacity="1"/>
<circle cx="287.00" cy="307.90" r="2.1" fill="#e31a1c" fill-opacity="1"/>
<circle cx="293.70" cy="310.80" r="2.1" fill="#e31a1c" fill-opacity="1"/>
<circle cx="285.30" cy="312.50" r="2.1" fill="#e31a1c" fill-opacity="1"/>
<circle cx="289.10" cy="315.70" r="2.1" fill="#e31a1c" fill-opacity="1"/>
<circle cx="293.30" cy="320.50" r="2.1" fill="#e31a1c" fill-opacity="1"/>
<circle cx="290.60" cy="329.40" r="2.1" fill="#e31a1c" fill-opacity="1"/>
<circle cx="287.80" cy="335.70" r="2.1" fill="#e31a1c" fill-opacity="1"/>
<circle cx="292.00" cy="337.80" r="2.1" fill="#e31a1c" fill-opacity="1"/>
<circle cx="287.80" cy="342.60" r="2.1" fill="#e31a1c" fill-opacity="1"/>
<circle cx="293.30" cy="341.60" r="2.1" fill="#e31a1c" fill-opacity="1"/>
<line x1="312.10" y1="296.70" x2="312.10" y2="343.30" stroke="#377eb8" stroke-width="1"/>
<rect x="304.20" y="319.10" width="15.80" height="16.60" fill="#a9c8e6" fill-opacity="0.9" stroke="#377eb8" stroke-width="1"/>
<line x1="304.20" y1="325.50" x2="320.00" y2="325.50" stroke="#377eb8" stroke-width="1.2"/>
<path d="M313.60,267.03 L316.30,271.75 L310.90,271.75 Z" fill="#377eb8" fill-opacity="1"/>
<path d="M313.70,285.13 L316.40,289.86 L311.00,289.86 Z" fill="#377eb8" fill-opacity="1"/>
<path d="M309.10,293.73 L311.80,298.45 L306.40,298.45 Z" fill="#377eb8" fill-opacity="1"/>
<path d="M313.30,312.73 L316.00,317.45 L310.60,317.45 Z" fill="#377eb8" fill-opacity="1"/>
<path d="M306.70,319.43 L309.40,324.15 L304.00,324.15 Z" fill="#377eb8" fill-opacity="1"/>
<path d="M311.40,319.43 L314.10,324.15 L308.70,324.15 Z" fill="#377eb8" fill-opacity="1"/>
<path d="M308.60,324.13 L311.30,328.86 L305.90,328.86 Z" fill="#377eb8" fill-opacity="1"/>
<path d="M313.30,325.13 L316.00,329.86 L310.60,329.86 Z" fill="#377eb8" fill-opacity="1"/>
<path d="M307.60,328.03 L310.30,332.75 L304.90,332.75 Z" fill="#377eb8" fill-opacity="1"/>
<path d="M308.60,334.63 L311.30,339.36 L305.90,339.36 Z" fill="#377eb8" fill-opacity="1"/>
<path d="M307.60,340.33 L310.30,345.06 L304.90,345.06 Z" fill="#377eb8" fill-opacity="1"/>
<path d="M311.80,339.43 L314.50,344.15 L309.10,344.15 Z" fill="#377eb8" fill-opacity="1"/>
<path d="M314.90,338.43 L317.60,343.15 L312.20,343.15 Z" fill="#377eb8" fill-opacity="1"/>
<text x="311.40" y="244.20" text-anchor="middle" font-family='"Liberation Sans", sans-serif' font-size="9" letter-spacing="0" fill="#141414">*</text>
<text transform="translate(233.80,297.30) rotate(-90)" text-anchor="middle" font-family='"Liberation Sans", sans-serif' font-size="11.5" fill="#141414">Protein concentration</text>
<text transform="translate(244.20,298.40) rotate(-90)" text-anchor="middle" font-family='"Liberation Sans", sans-serif' font-size="11.5" fill="#141414">(<tspan font-style="italic">μ</tspan>g/mL)</text>
<line x1="380.2" y1="231.0" x2="380.2" y2="366.5" stroke="#222" stroke-width="1"/>
<line x1="379.7" y1="366.5" x2="429.9" y2="366.5" stroke="#222" stroke-width="1"/>
<line x1="377.0" y1="360.20" x2="380.2" y2="360.20" stroke="#222" stroke-width="1"/>
<text x="375.20" y="364.30" text-anchor="end" font-family='"Liberation Sans", sans-serif' font-size="11.5" letter-spacing="0.55" fill="#141414">0</text>
<line x1="377.0" y1="319.20" x2="380.2" y2="319.20" stroke="#222" stroke-width="1"/>
<text x="375.20" y="323.30" text-anchor="end" font-family='"Liberation Sans", sans-serif' font-size="11.5" letter-spacing="0.55" fill="#141414">100</text>
<line x1="377.0" y1="278.20" x2="380.2" y2="278.20" stroke="#222" stroke-width="1"/>
<text x="375.20" y="282.30" text-anchor="end" font-family='"Liberation Sans", sans-serif' font-size="11.5" letter-spacing="0.55" fill="#141414">200</text>
<line x1="377.0" y1="237.20" x2="380.2" y2="237.20" stroke="#222" stroke-width="1"/>
<text x="375.20" y="241.30" text-anchor="end" font-family='"Liberation Sans", sans-serif' font-size="11.5" letter-spacing="0.55" fill="#141414">300</text>
<line x1="393.75" y1="366.5" x2="393.75" y2="368.7" stroke="#222" stroke-width="1"/>
<text x="394.05" y="378.90" text-anchor="middle" font-family='"Liberation Sans", sans-serif' font-size="11.5" letter-spacing="0.4" fill="#141414">DP</text>
<line x1="416.35" y1="366.5" x2="416.35" y2="368.7" stroke="#222" stroke-width="1"/>
<text x="416.65" y="378.90" text-anchor="middle" font-family='"Liberation Sans", sans-serif' font-size="11.5" letter-spacing="0.4" fill="#141414">REM</text>
<line x1="394.00" y1="282.10" x2="416.60" y2="282.80" stroke="#bdbdbd" stroke-width="0.9"/>
<line x1="394.00" y1="292.10" x2="416.60" y2="272.00" stroke="#bdbdbd" stroke-width="0.9"/>
<line x1="394.00" y1="297.80" x2="416.60" y2="291.40" stroke="#bdbdbd" stroke-width="0.9"/>
<line x1="394.00" y1="300.70" x2="416.60" y2="294.30" stroke="#bdbdbd" stroke-width="0.9"/>
<line x1="394.00" y1="303.00" x2="416.60" y2="304.30" stroke="#bdbdbd" stroke-width="0.9"/>
<line x1="394.00" y1="305.00" x2="416.60" y2="296.40" stroke="#bdbdbd" stroke-width="0.9"/>
<line x1="394.00" y1="308.60" x2="416.60" y2="289.00" stroke="#bdbdbd" stroke-width="0.9"/>
<line x1="394.00" y1="311.00" x2="416.60" y2="304.30" stroke="#bdbdbd" stroke-width="0.9"/>
<line x1="394.00" y1="312.90" x2="416.60" y2="312.90" stroke="#bdbdbd" stroke-width="0.9"/>
<line x1="394.00" y1="317.20" x2="416.60" y2="312.90" stroke="#bdbdbd" stroke-width="0.9"/>
<line x1="393.95" y1="282.10" x2="393.95" y2="317.20" stroke="#377eb8" stroke-width="1"/>
<rect x="388.60" y="299.00" width="10.70" height="9.20" fill="#a9c8e6" fill-opacity="0.9" stroke="#377eb8" stroke-width="1"/>
<line x1="388.60" y1="303.50" x2="399.30" y2="303.50" stroke="#377eb8" stroke-width="1.2"/>
<line x1="416.70" y1="272.00" x2="416.70" y2="312.90" stroke="#f6a27c" stroke-width="1"/>
<rect x="410.80" y="284.20" width="11.80" height="19.40" fill="#fdd2bb" fill-opacity="0.9" stroke="#f6a27c" stroke-width="1"/>
<line x1="410.80" y1="294.30" x2="422.60" y2="294.30" stroke="#f6a27c" stroke-width="1.2"/>
<circle cx="394.00" cy="282.10" r="2.4" fill="#377eb8" fill-opacity="1"/>
<circle cx="394.00" cy="292.10" r="2.4" fill="#377eb8" fill-opacity="1"/>
<circle cx="394.00" cy="297.80" r="2.4" fill="#377eb8" fill-opacity="1"/>
<circle cx="394.00" cy="300.70" r="2.4" fill="#377eb8" fill-opacity="1"/>
<circle cx="394.00" cy="303.00" r="2.4" fill="#377eb8" fill-opacity="1"/>
<circle cx="394.00" cy="305.00" r="2.4" fill="#377eb8" fill-opacity="1"/>
<circle cx="394.00" cy="308.60" r="2.4" fill="#377eb8" fill-opacity="1"/>
<circle cx="394.00" cy="311.00" r="2.4" fill="#377eb8" fill-opacity="1"/>
<circle cx="394.00" cy="312.90" r="2.4" fill="#377eb8" fill-opacity="1"/>
<circle cx="394.00" cy="317.20" r="2.4" fill="#377eb8" fill-opacity="1"/>
<circle cx="416.60" cy="282.80" r="2.4" fill="#f5845a" fill-opacity="1"/>
<circle cx="416.60" cy="272.00" r="2.4" fill="#f5845a" fill-opacity="1"/>
<circle cx="416.60" cy="291.40" r="2.4" fill="#f5845a" fill-opacity="1"/>
<circle cx="416.60" cy="294.30" r="2.4" fill="#f5845a" fill-opacity="1"/>
<circle cx="416.60" cy="304.30" r="2.4" fill="#f5845a" fill-opacity="1"/>
<circle cx="416.60" cy="296.40" r="2.4" fill="#f5845a" fill-opacity="1"/>
<circle cx="416.60" cy="289.00" r="2.4" fill="#f5845a" fill-opacity="1"/>
<circle cx="416.60" cy="304.30" r="2.4" fill="#f5845a" fill-opacity="1"/>
<circle cx="416.60" cy="312.90" r="2.4" fill="#f5845a" fill-opacity="1"/>
<circle cx="416.60" cy="312.90" r="2.4" fill="#f5845a" fill-opacity="1"/>
<text x="416.60" y="257.90" text-anchor="middle" font-family='"Liberation Sans", sans-serif' font-size="14" letter-spacing="0" fill="#141414">ns</text>
<text transform="translate(350.70,297.50) rotate(-90)" text-anchor="middle" font-family='"Liberation Sans", sans-serif' font-size="11.8" fill="#141414">Modal diameter (nm)</text>
<line x1="488.9" y1="231.0" x2="488.9" y2="366.5" stroke="#222" stroke-width="1"/>
<line x1="488.4" y1="366.5" x2="538.2" y2="366.5" stroke="#222" stroke-width="1"/>
<line x1="485.7" y1="360.20" x2="488.9" y2="360.20" stroke="#222" stroke-width="1"/>
<text x="483.90" y="364.30" text-anchor="end" font-family='"Liberation Sans", sans-serif' font-size="11.5" letter-spacing="0.55" fill="#141414">0.0</text>
<line x1="485.7" y1="329.45" x2="488.9" y2="329.45" stroke="#222" stroke-width="1"/>
<text x="483.90" y="333.55" text-anchor="end" font-family='"Liberation Sans", sans-serif' font-size="11.5" letter-spacing="0.55" fill="#141414">2.5</text>
<line x1="485.7" y1="298.70" x2="488.9" y2="298.70" stroke="#222" stroke-width="1"/>
<text x="483.90" y="302.80" text-anchor="end" font-family='"Liberation Sans", sans-serif' font-size="11.5" letter-spacing="0.55" fill="#141414">5.0</text>
<line x1="485.7" y1="267.95" x2="488.9" y2="267.95" stroke="#222" stroke-width="1"/>
<text x="483.90" y="272.05" text-anchor="end" font-family='"Liberation Sans", sans-serif' font-size="11.5" letter-spacing="0.55" fill="#141414">7.5</text>
<line x1="485.7" y1="237.20" x2="488.9" y2="237.20" stroke="#222" stroke-width="1"/>
<text x="483.90" y="241.30" text-anchor="end" font-family='"Liberation Sans", sans-serif' font-size="11.5" letter-spacing="0.55" fill="#141414">10.0</text>
<line x1="502.35" y1="366.5" x2="502.35" y2="368.7" stroke="#222" stroke-width="1"/>
<text x="502.65" y="378.90" text-anchor="middle" font-family='"Liberation Sans", sans-serif' font-size="11.5" letter-spacing="0.4" fill="#141414">DP</text>
<line x1="524.75" y1="366.5" x2="524.75" y2="368.7" stroke="#222" stroke-width="1"/>
<text x="525.05" y="378.90" text-anchor="middle" font-family='"Liberation Sans", sans-serif' font-size="11.5" letter-spacing="0.4" fill="#141414">REM</text>
<line x1="502.40" y1="314.40" x2="525.30" y2="264.00" stroke="#bdbdbd" stroke-width="0.9"/>
<line x1="502.40" y1="322.80" x2="525.30" y2="276.70" stroke="#bdbdbd" stroke-width="0.9"/>
<line x1="502.40" y1="339.40" x2="525.30" y2="304.90" stroke="#bdbdbd" stroke-width="0.9"/>
<line x1="502.40" y1="345.00" x2="525.30" y2="325.40" stroke="#bdbdbd" stroke-width="0.9"/>
<line x1="502.40" y1="348.00" x2="525.30" y2="338.10" stroke="#bdbdbd" stroke-width="0.9"/>
<line x1="502.40" y1="351.00" x2="525.30" y2="340.70" stroke="#bdbdbd" stroke-width="0.9"/>
<line x1="502.40" y1="354.00" x2="525.30" y2="344.50" stroke="#bdbdbd" stroke-width="0.9"/>
<line x1="502.40" y1="357.00" x2="525.30" y2="352.20" stroke="#bdbdbd" stroke-width="0.9"/>
<line x1="502.40" y1="359.50" x2="525.30" y2="358.60" stroke="#bdbdbd" stroke-width="0.9"/>
<line x1="502.40" y1="359.90" x2="525.30" y2="358.60" stroke="#bdbdbd" stroke-width="0.9"/>
<line x1="502.85" y1="322.80" x2="502.85" y2="359.90" stroke="#377eb8" stroke-width="1"/>
<rect x="497.10" y="341.50" width="11.50" height="8.70" fill="#a9c8e6" fill-opacity="0.9" stroke="#377eb8" stroke-width="1"/>
<line x1="497.10" y1="346.50" x2="508.60" y2="346.50" stroke="#377eb8" stroke-width="1.2"/>
<line x1="525.35" y1="264.00" x2="525.35" y2="358.60" stroke="#f6a27c" stroke-width="1"/>
<rect x="519.60" y="310.00" width="11.50" height="40.20" fill="#fdd2bb" fill-opacity="0.9" stroke="#f6a27c" stroke-width="1"/>
<line x1="519.60" y1="337.40" x2="531.10" y2="337.40" stroke="#f6a27c" stroke-width="1.2"/>
<circle cx="502.40" cy="314.40" r="2.4" fill="#377eb8" fill-opacity="1"/>
<circle cx="502.40" cy="322.80" r="2.4" fill="#377eb8" fill-opacity="1"/>
<circle cx="502.40" cy="339.40" r="2.4" fill="#377eb8" fill-opacity="1"/>
<circle cx="502.40" cy="345.00" r="2.4" fill="#377eb8" fill-opacity="1"/>
<circle cx="502.40" cy="348.00" r="2.4" fill="#377eb8" fill-opacity="1"/>
<circle cx="502.40" cy="351.00" r="2.4" fill="#377eb8" fill-opacity="1"/>
<circle cx="502.40" cy="354.00" r="2.4" fill="#377eb8" fill-opacity="1"/>
<circle cx="502.40" cy="357.00" r="2.4" fill="#377eb8" fill-opacity="1"/>
<circle cx="502.40" cy="359.50" r="2.4" fill="#377eb8" fill-opacity="1"/>
<circle cx="502.40" cy="359.90" r="2.4" fill="#377eb8" fill-opacity="1"/>
<circle cx="525.30" cy="264.00" r="2.4" fill="#f5845a" fill-opacity="1"/>
<circle cx="525.30" cy="276.70" r="2.4" fill="#f5845a" fill-opacity="1"/>
<circle cx="525.30" cy="304.90" r="2.4" fill="#f5845a" fill-opacity="1"/>
<circle cx="525.30" cy="325.40" r="2.4" fill="#f5845a" fill-opacity="1"/>
<circle cx="525.30" cy="338.10" r="2.4" fill="#f5845a" fill-opacity="1"/>
<circle cx="525.30" cy="340.70" r="2.4" fill="#f5845a" fill-opacity="1"/>
<circle cx="525.30" cy="344.50" r="2.4" fill="#f5845a" fill-opacity="1"/>
<circle cx="525.30" cy="352.20" r="2.4" fill="#f5845a" fill-opacity="1"/>
<circle cx="525.30" cy="358.60" r="2.4" fill="#f5845a" fill-opacity="1"/>
<circle cx="525.30" cy="358.60" r="2.4" fill="#f5845a" fill-opacity="1"/>
<text x="525.50" y="249.50" text-anchor="middle" font-family='"Liberation Sans", sans-serif' font-size="14" letter-spacing="0" fill="#141414">ns</text>
<text transform="translate(453.70,299.00) rotate(-90)" text-anchor="middle" font-family='"Liberation Sans", sans-serif' font-size="12" fill="#141414">x10<tspan dy="-5" font-size="8.5">9</tspan><tspan dy="5">particles</tspan></text>
<line x1="600.9" y1="231.0" x2="600.9" y2="366.5" stroke="#222" stroke-width="1"/>
<line x1="600.4" y1="366.5" x2="647.6" y2="366.5" stroke="#222" stroke-width="1"/>
<line x1="597.6999999999999" y1="360.20" x2="600.9" y2="360.20" stroke="#222" stroke-width="1"/>
<text x="595.90" y="364.30" text-anchor="end" font-family='"Liberation Sans", sans-serif' font-size="11.5" letter-spacing="0.55" fill="#141414">0</text>
<line x1="597.6999999999999" y1="319.20" x2="600.9" y2="319.20" stroke="#222" stroke-width="1"/>
<text x="595.90" y="323.30" text-anchor="end" font-family='"Liberation Sans", sans-serif' font-size="11.5" letter-spacing="0.55" fill="#141414">50</text>
<line x1="597.6999999999999" y1="278.20" x2="600.9" y2="278.20" stroke="#222" stroke-width="1"/>
<text x="595.90" y="282.30" text-anchor="end" font-family='"Liberation Sans", sans-serif' font-size="11.5" letter-spacing="0.55" fill="#141414">100</text>
<line x1="597.6999999999999" y1="237.20" x2="600.9" y2="237.20" stroke="#222" stroke-width="1"/>
<text x="595.90" y="241.30" text-anchor="end" font-family='"Liberation Sans", sans-serif' font-size="11.5" letter-spacing="0.55" fill="#141414">150</text>
<line x1="613.64" y1="366.5" x2="613.64" y2="368.7" stroke="#222" stroke-width="1"/>
<text x="613.94" y="378.90" text-anchor="middle" font-family='"Liberation Sans", sans-serif' font-size="11.5" letter-spacing="0.4" fill="#141414">DP</text>
<line x1="634.86" y1="366.5" x2="634.86" y2="368.7" stroke="#222" stroke-width="1"/>
<text x="635.16" y="378.90" text-anchor="middle" font-family='"Liberation Sans", sans-serif' font-size="11.5" letter-spacing="0.4" fill="#141414">REM</text>
<line x1="613.50" y1="288.10" x2="635.00" y2="270.20" stroke="#bdbdbd" stroke-width="0.9"/>
<line x1="613.50" y1="297.10" x2="635.00" y2="254.80" stroke="#bdbdbd" stroke-width="0.9"/>
<line x1="613.50" y1="319.00" x2="635.00" y2="294.00" stroke="#bdbdbd" stroke-width="0.9"/>
<line x1="613.50" y1="321.40" x2="635.00" y2="323.80" stroke="#bdbdbd" stroke-width="0.9"/>
<line x1="613.50" y1="323.80" x2="635.00" y2="310.70" stroke="#bdbdbd" stroke-width="0.9"/>
<line x1="613.50" y1="340.50" x2="635.00" y2="331.00" stroke="#bdbdbd" stroke-width="0.9"/>
<line x1="613.50" y1="341.70" x2="635.00" y2="334.50" stroke="#bdbdbd" stroke-width="0.9"/>
<line x1="613.50" y1="322.00" x2="635.00" y2="321.00" stroke="#bdbdbd" stroke-width="0.9"/>
<line x1="613.55" y1="288.10" x2="613.55" y2="341.70" stroke="#377eb8" stroke-width="1"/>
<rect x="608.30" y="318.60" width="10.50" height="7.10" fill="#a9c8e6" fill-opacity="0.9" stroke="#377eb8" stroke-width="1"/>
<line x1="608.30" y1="322.00" x2="618.80" y2="322.00" stroke="#377eb8" stroke-width="1.2"/>
<line x1="634.95" y1="254.80" x2="634.95" y2="334.50" stroke="#f6a27c" stroke-width="1"/>
<rect x="629.70" y="277.40" width="10.50" height="48.30" fill="#fdd2bb" fill-opacity="0.9" stroke="#f6a27c" stroke-width="1"/>
<line x1="629.70" y1="317.90" x2="640.20" y2="317.90" stroke="#f6a27c" stroke-width="1.2"/>
<circle cx="613.50" cy="288.10" r="2.4" fill="#377eb8" fill-opacity="1"/>
<circle cx="613.50" cy="297.10" r="2.4" fill="#377eb8" fill-opacity="1"/>
<circle cx="613.50" cy="319.00" r="2.4" fill="#377eb8" fill-opacity="1"/>
<circle cx="613.50" cy="321.40" r="2.4" fill="#377eb8" fill-opacity="1"/>
<circle cx="613.50" cy="323.80" r="2.4" fill="#377eb8" fill-opacity="1"/>
<circle cx="613.50" cy="340.50" r="2.4" fill="#377eb8" fill-opacity="1"/>
<circle cx="613.50" cy="341.70" r="2.4" fill="#377eb8" fill-opacity="1"/>
<circle cx="613.50" cy="322.00" r="2.4" fill="#377eb8" fill-opacity="1"/>
<circle cx="635.00" cy="270.20" r="2.4" fill="#f5845a" fill-opacity="1"/>
<circle cx="635.00" cy="254.80" r="2.4" fill="#f5845a" fill-opacity="1"/>
<circle cx="635.00" cy="294.00" r="2.4" fill="#f5845a" fill-opacity="1"/>
<circle cx="635.00" cy="323.80" r="2.4" fill="#f5845a" fill-opacity="1"/>
<circle cx="635.00" cy="310.70" r="2.4" fill="#f5845a" fill-opacity="1"/>
<circle cx="635.00" cy="331.00" r="2.4" fill="#f5845a" fill-opacity="1"/>
<circle cx="635.00" cy="334.50" r="2.4" fill="#f5845a" fill-opacity="1"/>
<circle cx="635.00" cy="321.00" r="2.4" fill="#f5845a" fill-opacity="1"/>
<text x="635.40" y="245.60" text-anchor="middle" font-family='"Liberation Sans", sans-serif' font-size="14" letter-spacing="0" fill="#141414">ns</text>
<text transform="translate(557.60,298.30) rotate(-90)" text-anchor="middle" font-family='"Liberation Sans", sans-serif' font-size="11.5" fill="#141414">Protein concentration</text>
<text transform="translate(567.80,299.40) rotate(-90)" text-anchor="middle" font-family='"Liberation Sans", sans-serif' font-size="11.5" fill="#141414">(<tspan font-style="italic">μ</tspan>g/mL)</text>
</svg></body></html>
